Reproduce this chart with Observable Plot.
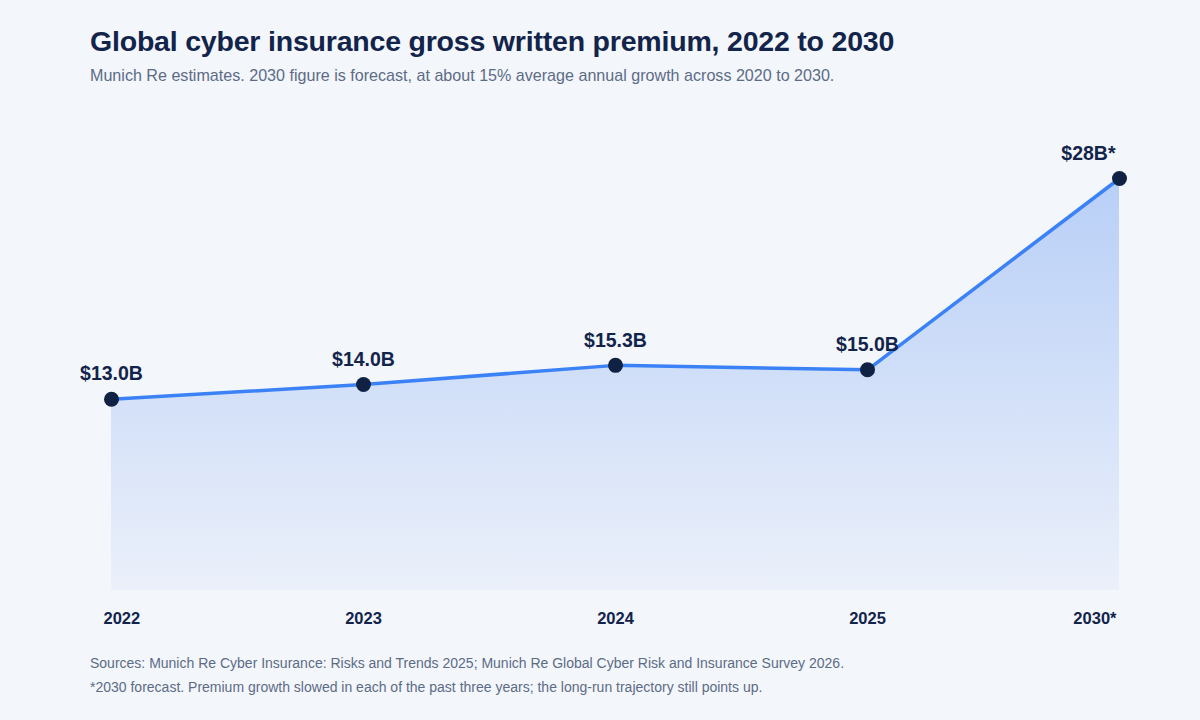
<!DOCTYPE html>
<html><head><meta charset="utf-8">
<script src="https://cdn.jsdelivr.net/npm/d3@7"></script>
<script src="https://cdn.jsdelivr.net/npm/@observablehq/plot@0.6"></script>
<style>
html,body{margin:0;padding:0;background:#f3f6fb;}
body{width:1200px;height:720px;position:relative;overflow:hidden;font-family:"Liberation Sans",Arial,sans-serif;}
#title{position:absolute;left:90px;top:25px;font-size:28.5px;font-weight:700;color:#12244a;margin:0;letter-spacing:-0.2px;}
#sub{position:absolute;left:90px;top:66px;font-size:16.1px;color:#5c6c86;margin:0;}
#chart{position:absolute;left:0;top:100px;}
#foot{position:absolute;left:90px;top:651px;font-size:14px;color:#5c6c86;line-height:24px;}
</style></head>
<body>
<h1 id="title">Global cyber insurance gross written premium, 2022 to 2030</h1>
<p id="sub">Munich Re estimates. 2030 figure is forecast, at about 15% average annual growth across 2020 to 2030.</p>
<div id="chart"></div>
<div id="foot">Sources: Munich Re Cyber Insurance: Risks and Trends 2025; Munich Re Global Cyber Risk and Insurance Survey 2026.<br>*2030 forecast. Premium growth slowed in each of the past three years; the long-run trajectory still points up.</div>
<script>
const years = ["2022", "2023", "2024", "2025", "2030*"];
const premiums = [13.0, 14.0, 15.3, 15.0, 28];
const valueLabels = ["$13.0B", "$14.0B", "$15.3B", "$15.0B", "$28B*"];

const data = years.map((y, i) => ({year: y, value: premiums[i], label: valueLabels[i], i}));
const last = years.length - 1;
const navy = "#12244a";

const chart = Plot.plot({
  width: 1200,
  height: 545,
  marginLeft: 110,
  marginRight: 80,
  marginTop: 78,
  marginBottom: 55,
  style: {background: "transparent", fontFamily: "Liberation Sans, Arial, sans-serif", overflow: "visible"},
  x: {type: "point", domain: years, padding: 0, label: null, axis: null},
  y: {domain: [0, 28], axis: null},
  marks: [
    () => {
      const svg = d3.create("svg:defs");
      const g = svg.append("linearGradient").attr("id", "areaGrad").attr("x1", 0).attr("x2", 0).attr("y1", 0).attr("y2", 1);
      g.append("stop").attr("offset", "0%").attr("stop-color", "#b8cff7");
      g.append("stop").attr("offset", "100%").attr("stop-color", "#ebf0fa");
      return svg.node();
    },
    Plot.areaY(data, {x: "year", y: "value", fill: "url(#areaGrad)"}),
    Plot.lineY(data, {x: "year", y: "value", stroke: "#3b82f6", strokeWidth: 3.5}),
    Plot.dot(data, {x: "year", y: "value", r: 7.5, fill: "#0f2244", stroke: "none"}),
    Plot.text(data.filter(d => d.i < last), {x: "year", y: "value", text: "label", dy: -25, fontSize: 19.5, fontWeight: "bold", fill: navy}),
    Plot.text(data.filter(d => d.i === last), {x: "year", y: "value", text: "label", dy: -25, dx: -4, textAnchor: "end", fontSize: 19.5, fontWeight: "bold", fill: navy}),
    // x tick labels
    Plot.text(data.filter(d => d.i > 0 && d.i < last), {x: "year", y: 0, text: "year", dy: 28, fontSize: 16.5, fontWeight: "bold", fill: navy}),
    Plot.text(data.filter(d => d.i === 0), {x: "year", y: 0, text: "year", dy: 28, dx: -8, textAnchor: "start", fontSize: 16.5, fontWeight: "bold", fill: navy}),
    Plot.text(data.filter(d => d.i === last), {x: "year", y: 0, text: "year", dy: 28, dx: -3, textAnchor: "end", fontSize: 16.5, fontWeight: "bold", fill: navy})
  ]
});
document.getElementById("chart").appendChild(chart);
</script>
</body></html>
